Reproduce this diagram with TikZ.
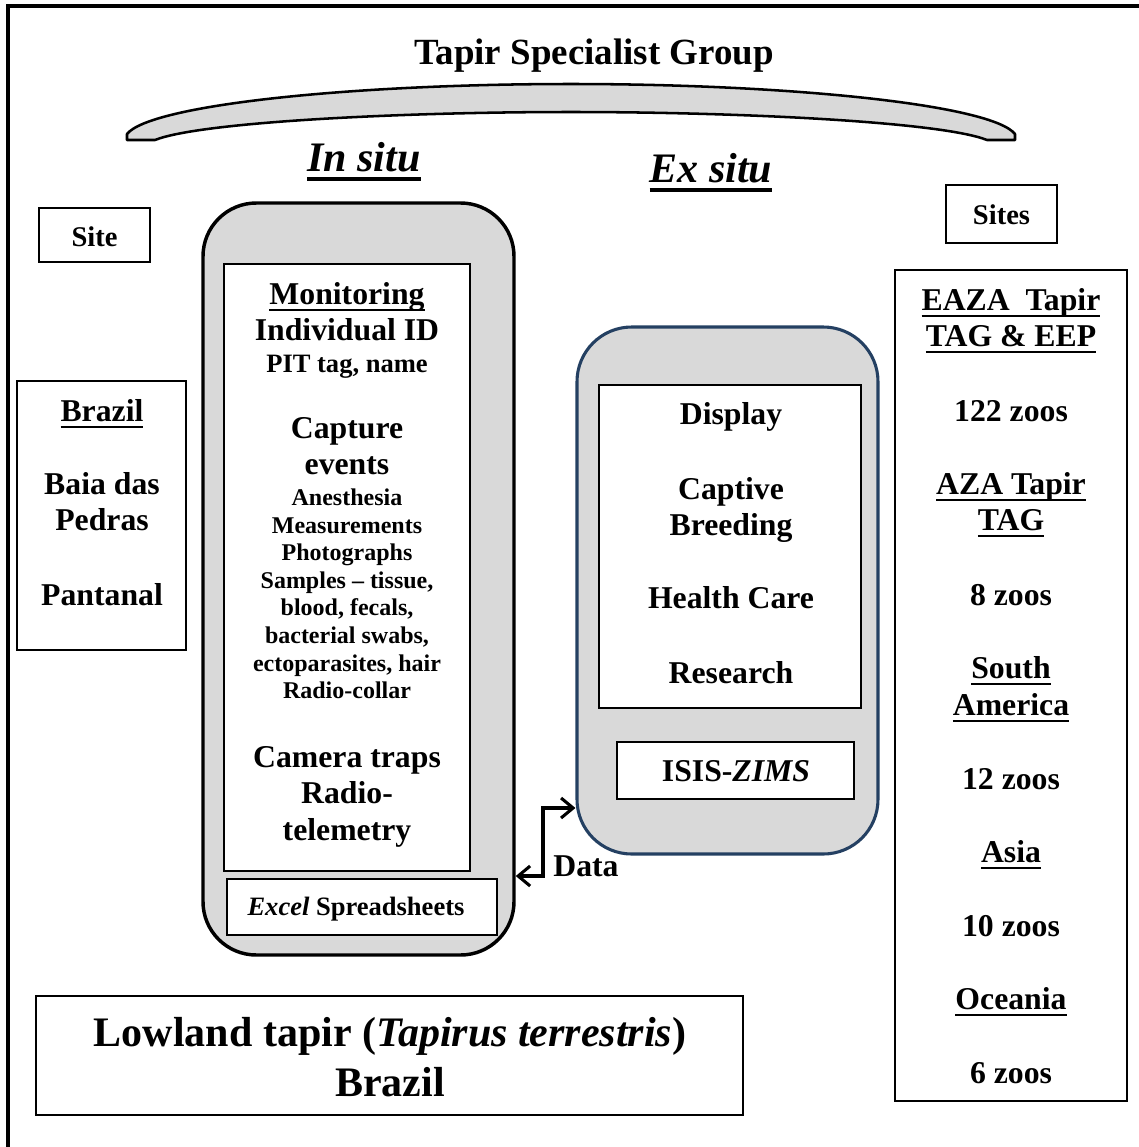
\documentclass[tikz,border=0pt]{standalone}
\usepackage{fontspec}
\setmainfont{Liberation Serif}
\usetikzlibrary{arrows.meta}
\definecolor{boxgray}{RGB}{217,217,217}
\definecolor{exblue}{RGB}{36,64,98}
\newcommand{\fsz}[1]{\fontsize{#1}{#1}\selectfont\bfseries}
\newcommand{\ul}[1]{\leavevmode\setbox0=\hbox{#1}\rlap{\vrule width\wd0 height -0.15em depth 0.23em}\box0}
\tikzset{
  tx/.style={anchor=base, inner sep=0pt, align=center},
  ttl/.style={tx, font=\fsz{27.7pt}},
  huge/.style={tx, font=\fsz{31.5pt}},
  mid/.style={tx, font=\fsz{23.8pt}},
  sitefont/.style={tx, font=\fsz{21.4pt}},
  pit/.style={tx, font=\fsz{19.9pt}},
  small/.style={tx, font=\fsz{18pt}},
  plainbox/.style={draw=black, line width=0.8pt, fill=white, inner sep=0pt},
  sitebox/.style={draw=black, line width=1.5pt, fill=white, inner sep=0pt},
  dataarrow/.style={line width=2.3pt, {Straight Barb[length=9pt,width=15pt]}-{Straight Barb[length=9pt,width=15pt]}},
}
\begin{document}
\begin{tikzpicture}[x=0.75pt, y=-0.75pt]
\useasboundingbox (0,0) rectangle (1139,1147);
% frame
\draw[line width=3pt, line join=miter] (8,1147) -- (8,6) -- (1139,6);
% title
\node[ttl] (title) at (594,64) {Tapir Specialist Group};
% banner
\draw[line width=1.9pt, fill=boxgray, line join=round] (127,140) -- (127,134)
  .. controls (150,105) and (350,84) .. (571,84)
  .. controls (792,84) and (992,105) .. (1015,134) -- (1015,140) -- (987,140)
  .. controls (942,122) and (742,112) .. (571,112)
  .. controls (400,112) and (200,122) .. (155,140) -- cycle;
% headings
\node[huge] (insituh) at (364,171) {\itshape\ul{In situ}};
\node[huge] (exsituh) at (711,182) {\itshape\ul{Ex situ}};
% site boxes
\node[sitebox, minimum width=83.25pt, minimum height=40.5pt] (site) at (94.5,235) {};
\node[sitefont] (sitet) at (94.5,246) {Site};
\node[sitebox, minimum width=83.25pt, minimum height=43.5pt] (sites) at (1001.5,214) {};
\node[sitefont] (sitest) at (1001.5,224) {Sites};
% Brazil box
\node[plainbox, minimum width=126.75pt, minimum height=201.75pt] (brbox) at (101.5,515.5) {};
\node[mid] (br1) at (102,421) {\ul{Brazil}};
\node[mid] (br2) at (102,494) {Baia das};
\node[mid] (br3) at (102,530) {Pedras};
\node[mid] (br4) at (102,605) {Pantanal};
% in situ
\node[draw=black, line width=2.6pt, fill=boxgray, rounded corners=40pt, minimum width=233.25pt, minimum height=564pt, inner sep=0pt] (insitu) at (358.5,579) {};
\node[plainbox, minimum width=184.5pt, minimum height=455.25pt] (inwhite) at (347,567.5) {};
\node[plainbox, minimum width=202.5pt, minimum height=42pt] (excel) at (362,907) {};
\node[pit] (excelt) at (356,915) {\textit{Excel} Spreadsheets};
\node[mid] (m1) at (347,304) {\ul{Monitoring}};
\node[mid] (m2) at (347,340) {Individual ID};
\node[pit] (m3) at (347,372) {PIT tag, name};
\node[mid] (m4) at (347,438) {Capture};
\node[mid] (m5) at (347,474) {events};
\node[small] (s1) at (347,505) {Anesthesia};
\node[small] (s2) at (347,533) {Measurements};
\node[small] (s3) at (347,560) {Photographs};
\node[small] (s4) at (347,588) {Samples -- tissue,};
\node[small] (s5) at (347,615) {blood, fecals,};
\node[small] (s6) at (347,643) {bacterial swabs,};
\node[small] (s7) at (347,671) {ectoparasites, hair};
\node[small] (s8) at (347,698) {Radio-collar};
\node[mid] (c1) at (347,767) {Camera traps};
\node[mid] (c2) at (347,803) {Radio-};
\node[mid] (c3) at (347,840) {telemetry};
% ex situ
\node[draw=exblue, line width=2.3pt, fill=boxgray, rounded corners=41pt, minimum width=225.75pt, minimum height=395.25pt, inner sep=0pt] (exsitu) at (727.5,590.5) {};
\node[plainbox, minimum width=196.5pt, minimum height=242.25pt] (exwhite) at (730,546.5) {};
\node[plainbox, minimum width=177.75pt, minimum height=42.75pt] (isis) at (735.5,770.5) {};
\node[mid] (isist) at (736,781) {ISIS-\textit{ZIMS}};
\node[mid] (e1) at (731,424) {Display};
\node[mid] (e2) at (731,499) {Captive};
\node[mid] (e3) at (731,535) {Breeding};
\node[mid] (e4) at (731,608) {Health Care};
\node[mid] (e5) at (731,683) {Research};
% data arrow
\draw[dataarrow] (insitu.east |- 0,876) -- (543,876) -- (543,808) -- (exsitu.west |- 0,808);
\node[mid] (data) at (586,876) {Data};
% right column
\node[plainbox, minimum width=174pt, minimum height=623.25pt] (right) at (1011,685.5) {};
\begin{scope}[every node/.append style={mid}]
\node (r1) at (1011,310) {\ul{EAZA\ \ Tapir}};
\node (r2) at (1011,346) {\ul{TAG \& EEP}};
\node (r3) at (1011,421) {122 zoos};
\node (r4) at (1011,494) {\ul{AZA Tapir}};
\node (r5) at (1011,530) {\ul{TAG}};
\node (r6) at (1011,605) {8 zoos};
\node (r7) at (1011,678) {\ul{South}};
\node (r8) at (1011,715) {\ul{America}};
\node (r9) at (1011,789) {12 zoos};
\node (r10) at (1011,862) {\ul{Asia}};
\node (r11) at (1011,936) {10 zoos};
\node (r12) at (1011,1009) {\ul{Oceania}};
\node (r13) at (1011,1083) {6 zoos};
\end{scope}
% bottom
\node[plainbox, minimum width=530.25pt, minimum height=89.25pt] (bottom) at (389.5,1055.5) {};
\node[huge] (b1) at (390,1046) {Lowland tapir (\textit{Tapirus terrestris})};
\node[huge] (b2) at (390,1096) {Brazil};
\end{tikzpicture}
\end{document}
